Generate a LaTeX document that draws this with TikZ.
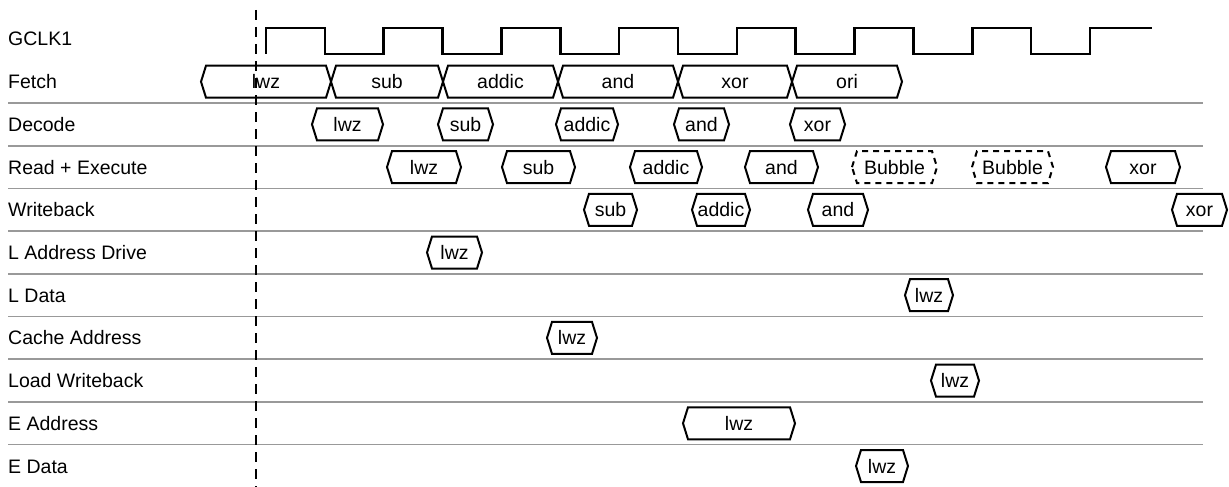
\documentclass[tikz,border=0pt]{standalone}
\usepackage{fontspec}
\setmainfont{Liberation Sans}
\begin{document}
\begin{tikzpicture}[x=1pt, y=-1pt,
		font=\fontsize{19.5}{22}\selectfont,
		busline/.style={line width=2pt, line join=miter},
		bubble/.style={busline, dash pattern=on 6pt off 5pt},
		optext/.style={anchor=base, inner sep=0pt},
		rowlabel/.style={anchor=base west, inner sep=0pt},
		sepline/.style={line width=1.6pt, color=black!40},
		clock/.style={line width=2.6pt, line join=miter}]

		\useasboundingbox (0,0) rectangle (1229,487);

		% --- Row Labels ---
		\foreach \lab [count=\i from 0] in {GCLK1, Fetch, Decode, Read + Execute, Writeback, L Address Drive, L Data, Cache Address, Load Writeback, E Address, E Data} {
			\node[rowlabel] (lab-\i) at (8, 46+42.7*\i) {\lab};
		}

		% --- Separators ---
		\foreach \i in {1,...,9} {
			\draw[sepline] (8, 60.35+42.7*\i) -- (1203, 60.35+42.7*\i);
		}

		% --- Clock ---
		\draw[clock] (266,54) \foreach \k in {0,...,6} { -- ++(0,-26) -- ++(58.85,0) -- ++(0,26) -- ++(58.85,0) } -- ++(0,-26) -- ++(62,0);

		% --- Reference Line (Dashed) ---
		\draw[line width=2.6pt, dash pattern=on 10pt off 7pt] (256,10) -- (256,487);

		% --- Fetch ---
		\foreach \xa/\xb/\op [count=\i] in {201/331/lwz, 331/443/sub, 443/558/addic, 558/678/and, 678/792/xor, 792/902/ori} {
			\draw[busline] (\xa,81.7) -- (\xa+5,65.7) -- (\xb-5,65.7) -- (\xb,81.7) -- (\xb-5,97.7) -- (\xa+5,97.7) -- cycle;
			\node[optext] (fetch-\i) at ({(\xa+\xb)/2}, 88.7) {\op};
		}

		% --- Decode ---
		\foreach \xa/\xb/\op [count=\i] in {312/383/lwz, 438/493/sub, 556/618/addic, 674/729/and, 790/845/xor} {
			\draw[busline] (\xa,124.4) -- (\xa+5,108.4) -- (\xb-5,108.4) -- (\xb,124.4) -- (\xb-5,140.4) -- (\xa+5,140.4) -- cycle;
			\node[optext] (dec-\i) at ({(\xa+\xb)/2}, 131.4) {\op};
		}

		% --- Read + Execute ---
		\foreach \xa/\xb/\op/\sty [count=\i] in {387/461/lwz/busline, 502/575/sub/busline, 630/702/addic/busline, 745/818/and/busline, 852/937/Bubble/bubble, 972/1053/Bubble/bubble, 1106/1180/xor/busline} {
			\draw[\sty] (\xa,167.1) -- (\xa+5,151.1) -- (\xb-5,151.1) -- (\xb,167.1) -- (\xb-5,183.1) -- (\xa+5,183.1) -- cycle;
			\node[optext] (exe-\i) at ({(\xa+\xb)/2}, 174.1) {\op};
		}

		% --- Writeback ---
		\foreach \xa/\xb/\op [count=\i] in {584/637/sub, 692/750/addic, 808/868/and, 1172/1227/xor} {
			\draw[busline] (\xa,209.8) -- (\xa+5,193.8) -- (\xb-5,193.8) -- (\xb,209.8) -- (\xb-5,225.8) -- (\xa+5,225.8) -- cycle;
			\node[optext] (wb-\i) at ({(\xa+\xb)/2}, 216.8) {\op};
		}

		% --- Load / Store Rows ---
		\foreach \xa/\xb/\r/\nm in {427/482/5/lad, 905/953/6/ldata, 547/597/7/cache, 931/979/8/ldwb, 683/795/9/eaddr, 856/908/10/edata} {
			\pgfmathsetmacro\yc{39+42.7*\r}
			\draw[busline] (\xa,\yc) -- (\xa+5,\yc-16) -- (\xb-5,\yc-16) -- (\xb,\yc) -- (\xb-5,\yc+16) -- (\xa+5,\yc+16) -- cycle;
			\node[optext] (\nm) at ({(\xa+\xb)/2}, \yc+7) {lwz};
		}

	\end{tikzpicture}
\end{document}
